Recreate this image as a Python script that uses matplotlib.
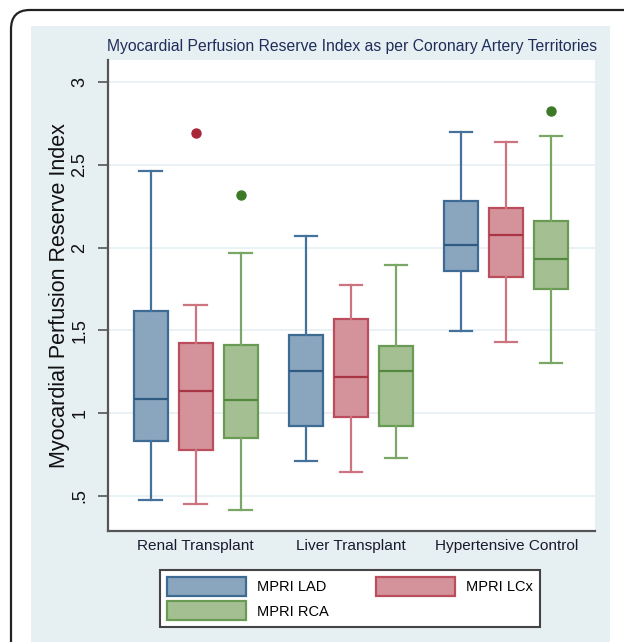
import matplotlib
matplotlib.use("Agg")
import matplotlib.pyplot as plt
from matplotlib.patches import Patch, FancyBboxPatch, Rectangle

plt.rcParams['font.family'] = ['Liberation Sans', 'DejaVu Sans']

title = "Myocardial Perfusion Reserve Index as per Coronary Artery Territories"
ylabel = "Myocardial Perfusion Reserve Index"
groups = ["Renal Transplant", "Liver Transplant", "Hypertensive Control"]
series = ["MPRI LAD", "MPRI LCx", "MPRI RCA"]

# per series: values for [Renal, Liver, Hypertensive]
whislo = {"MPRI LAD": [0.476, 0.707, 1.494],
          "MPRI LCx": [0.448, 0.643, 1.430],
          "MPRI RCA": [0.414, 0.727, 1.303]}
q1 = {"MPRI LAD": [0.833, 0.920, 1.861],
      "MPRI LCx": [0.777, 0.974, 1.821],
      "MPRI RCA": [0.848, 0.918, 1.749]}
med = {"MPRI LAD": [1.083, 1.253, 2.016],
       "MPRI LCx": [1.133, 1.219, 2.077],
       "MPRI RCA": [1.078, 1.255, 1.928]}
q3 = {"MPRI LAD": [1.616, 1.470, 2.279],
      "MPRI LCx": [1.420, 1.570, 2.237],
      "MPRI RCA": [1.411, 1.404, 2.158]}
whishi = {"MPRI LAD": [2.460, 2.072, 2.699],
          "MPRI LCx": [1.650, 1.771, 2.639],
          "MPRI RCA": [1.968, 1.892, 2.675]}
fliers = {"MPRI LAD": [[], [], []],
          "MPRI LCx": [[2.69], [], []],
          "MPRI RCA": [[2.317], [], [2.825]]}

yticks = [0.5, 1, 1.5, 2, 2.5, 3]
yticklabels = [".5", "1", "1.5", "2", "2.5", "3"]

face = {"MPRI LAD": "#8aa6be", "MPRI LCx": "#d4939b", "MPRI RCA": "#a4bf92"}
edge = {"MPRI LAD": "#3d6b94", "MPRI LCx": "#bb4d5c", "MPRI RCA": "#6a9b54"}
whisc = {"MPRI LAD": "#45729a", "MPRI LCx": "#cc7480", "MPRI RCA": "#7aa766"}
medc = {"MPRI LAD": "#2f5b82", "MPRI LCx": "#a83444", "MPRI RCA": "#55883f"}
flierc = {"MPRI LAD": "#2f5b82", "MPRI LCx": "#a8283a", "MPRI RCA": "#3d7a28"}

W, H = 624, 642
fig = plt.figure(figsize=(W / 100, H / 100), dpi=100)
fig.patch.set_facecolor("white")

def fx(x):
    return x / W

def fy(y):
    return 1 - y / H

# outer rounded border
border = FancyBboxPatch((fx(11), fy(700)), fx(700) - fx(11), fy(10) - fy(700),
                        boxstyle="round,pad=0,rounding_size=0.03",
                        transform=fig.transFigure, facecolor="white",
                        edgecolor="#222222", linewidth=1.6, zorder=-2)
fig.patches.append(border)
panel = Rectangle((fx(31), fy(650)), fx(610) - fx(31), fy(26) - fy(650),
                  transform=fig.transFigure, facecolor="#e6eff2",
                  edgecolor="none", zorder=-1)
fig.patches.append(panel)

ax = fig.add_axes([fx(108), fy(531), fx(595) - fx(108), fy(60) - fy(531)])
ax.set_zorder(1)
ax.set_facecolor("white")
ax.set_ylim(0.286, 3.134)
ax.set_xlim(-0.565, 2.572)

offsets = [-0.29, 0.0, 0.29]
bw = 0.22
for si, s in enumerate(series):
    stats = []
    for gi in range(len(groups)):
        stats.append(dict(whislo=whislo[s][gi], q1=q1[s][gi], med=med[s][gi],
                          q3=q3[s][gi], whishi=whishi[s][gi],
                          fliers=fliers[s][gi]))
    pos = [gi + offsets[si] for gi in range(len(groups))]
    ax.bxp(stats, positions=pos, widths=bw, capwidths=bw * 0.66,
           patch_artist=True, showfliers=True,
           boxprops=dict(facecolor=face[s], edgecolor=edge[s], linewidth=1.6),
           whiskerprops=dict(color=whisc[s], linewidth=1.6),
           capprops=dict(color=whisc[s], linewidth=1.6),
           medianprops=dict(color=medc[s], linewidth=1.6),
           flierprops=dict(marker="o", markerfacecolor=flierc[s],
                           markeredgecolor=flierc[s], markersize=6.5))

ax.set_xticks(range(len(groups)))
ax.set_xticklabels(groups, fontsize=11.1, color="#1a1a2e")
ax.tick_params(axis="x", length=0, pad=6)
ax.set_yticks(yticks)
ax.set_yticklabels(yticklabels, rotation=90, va="center", fontsize=13,
                   color="#111111")
ax.tick_params(axis="y", length=7, width=1.2, color="#555555", pad=7)
ax.grid(axis="y", color="#e6eff2", linewidth=1.2)
ax.set_axisbelow(True)
for sp in ["top", "right"]:
    ax.spines[sp].set_visible(False)
ax.spines["left"].set_color("#555555")
ax.spines["left"].set_linewidth(1.6)
ax.spines["bottom"].set_color("#555555")
ax.spines["bottom"].set_linewidth(1.6)

fig.text(fx(60), fy(296), ylabel, rotation=90, ha="center", va="center",
         fontsize=15.5, color="#111111")
fig.text(fx(352), fy(47), title, ha="center", va="center", fontsize=11.35,
         color="#1f2d5a")

handles = [Patch(facecolor=face[s], edgecolor=edge[s], linewidth=1.6)
           for s in series]
order = [0, 2, 1]
leg = fig.legend([handles[i] for i in order], [series[i] for i in order],
                 loc="center", bbox_to_anchor=(fx(350), fy(598.5)), ncol=2,
                 fontsize=10.5, handlelength=5.4, handleheight=1.6,
                 handletextpad=0.8, columnspacing=3.2, labelspacing=0.4,
                 borderpad=0.5, fancybox=False, frameon=True, framealpha=1)
leg.get_frame().set_edgecolor("#444444")
leg.get_frame().set_linewidth(1.5)
leg.get_frame().set_facecolor("white")

fig.savefig("out.png", dpi=100)
